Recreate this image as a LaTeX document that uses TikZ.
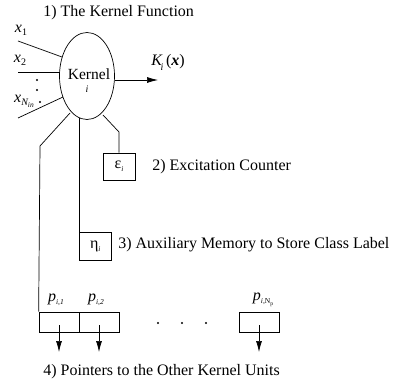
\documentclass[tikz,border=0pt]{standalone}
\usepackage{fontspec}
\setmainfont{Liberation Serif}
\usetikzlibrary{arrows.meta}
\newcommand{\sbs}[2][-3pt]{\raisebox{#1}{\fontsize{10}{11}\selectfont\itshape #2}}
\newcommand{\ssbs}[2][-3pt]{\raisebox{#1}{\fontsize{7.5}{8}\selectfont\itshape #2}}
\begin{document}
\begin{tikzpicture}[x=1pt,y=-1pt,
  line width=0.7pt,
  txt/.style={font=\fontsize{16}{18}\selectfont, inner sep=0pt},
  lbl/.style={font=\fontsize{16}{18}\selectfont, inner sep=0pt, anchor=west},
  cell/.style={draw, minimum width=40pt, minimum height=20pt, inner sep=0pt},
  arr/.style={-{Latex[length=11pt,width=6pt]}},
  dot/.style={circle, fill, inner sep=0pt, minimum size=2.2pt}]
\useasboundingbox (0,0) rectangle (396,387);
% title
\node[lbl] (t1) at (43,13) {1) The Kernel Function};
% kernel ellipse
\draw (87,76) ellipse [x radius=27.5, y radius=43.5];
\node[txt, font=\fontsize{15.5}{17}\selectfont] (kern) at (89,74) {Kernel};
\node[font=\fontsize{10}{11}\selectfont\itshape, inner sep=0pt] (ki) at (87,89) {i};
% inputs
\node[txt] (x1) at (21,30) {\textit{x}\raisebox{-3pt}{\fontsize{10}{11}\selectfont 1}};
\node[txt] (x2) at (20,60) {\textit{x}\raisebox{-3pt}{\fontsize{10}{11}\selectfont 2}};
\node[txt] (xn) at (24,101) {\textit{x}\raisebox{-3pt}{\fontsize{10}{11}\selectfont\itshape N\ssbs[-2pt]{in}}};
\coordinate (i1a) at (18,41);
\coordinate (i1b) at (62,57);
\coordinate (i2a) at (18,72);
\coordinate (i2b) at (60,72);
\coordinate (i3a) at (18,118);
\coordinate (i3b) at (63,97);
\draw (i1a) -- (i1b);
\draw (i2a) -- (i2b);
\draw (i3a) -- (i3b);
\node[dot] (d1) at (37,80) {};
\node[dot] (d2) at (37,90) {};
\node[dot] (d3) at (40,102) {};
% output
\coordinate (oa) at (114.5,80);
\coordinate (ob) at (158,80);
\draw[arr] (oa) -- (ob);
\node[lbl] (kx) at (151,62) {\textit{K}\kern-2pt\sbs[-5pt]{i}\,(\textbf{\textit{x}})};
% excitation counter
\node[draw, minimum width=32pt, minimum height=27pt, inner sep=0pt, font=\fontsize{16}{18}\selectfont] (eps) at (119,166.5) {ε\ssbs{i}};
\coordinate (ea) at (103,115);
\coordinate (eb) at (119,132);
\draw (ea) -- (eb) -- (eps.north);
\node[lbl] (t2) at (152,167) {2) Excitation Counter};
% auxiliary memory
\node[draw, minimum width=32pt, minimum height=28pt, inner sep=0pt, anchor=north west, font=\fontsize{16}{18}\selectfont] (eta) at (79,232) {η\ssbs{i}};
\coordinate (ma) at (79,118);
\draw (ma) -- (eta.north west);
\node[lbl] (t3) at (118,245) {3) Auxiliary Memory to Store Class Label};
% pointers
\node[cell] (p1) at (59,322) {};
\node[cell] (p2) at (99,322) {};
\node[cell] (pn) at (259,322) {};
\coordinate (la) at (70,113);
\coordinate (lb) at (40,146);
\draw (la) -- (lb) -- (p1.north west);
\node[txt] (pl1) at (56,300) {\textit{p}\ssbs{i,1}};
\node[txt] (pl2) at (96,300) {\textit{p}\ssbs{i,2}};
\node[txt] (pln) at (263,300) {\textit{p}\ssbs{i,}\raisebox{-3pt}{\fontsize{7.5}{8}\selectfont N\raisebox{-1.5pt}{\fontsize{5.5}{6}\selectfont p}}};
\coordinate (a1) at (59,352);
\coordinate (a2) at (99,352);
\coordinate (an) at (259,352);
\coordinate (s1) at (59,325);
\coordinate (s2) at (99,325);
\coordinate (sn) at (259,325);
\draw[arr] (s1) -- (a1);
\draw[arr] (s2) -- (a2);
\draw[arr] (sn) -- (an);
\node[dot] (e1) at (158,323) {};
\node[dot] (e2) at (182,323) {};
\node[dot] (e3) at (206,323) {};
\node[lbl] (t4) at (43,372) {4) Pointers to the Other Kernel Units};
\end{tikzpicture}
\end{document}
